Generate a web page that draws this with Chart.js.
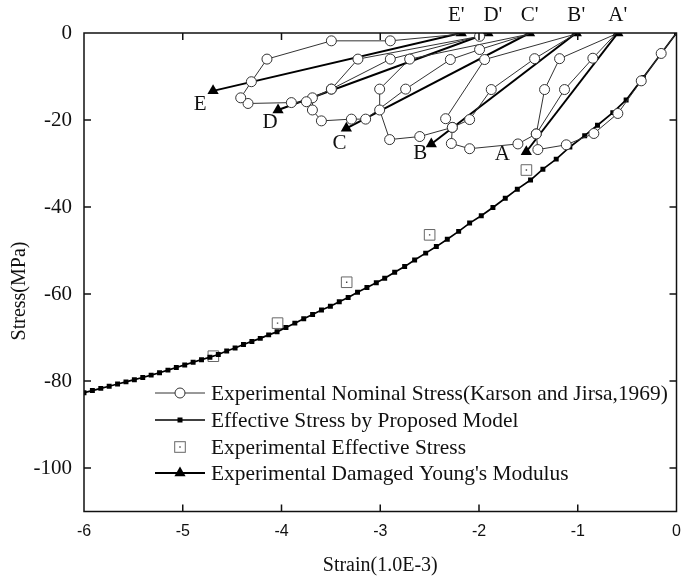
<!DOCTYPE html>
<html>
<head>
<meta charset="utf-8">
<script src="https://cdn.jsdelivr.net/npm/chart.js@4.4.0/dist/chart.umd.min.js"></script>
<style>
  html, body { margin: 0; padding: 0; background: #fff; }
</style>
</head>
<body>
<canvas id="grafico" width="685" height="580"></canvas>
<script>
const xTicks = [-6, -5, -4, -3, -2, -1, 0];
const yTicks = [0, -20, -40, -60, -80, -100];

// Experimental nominal stress, in test order (envelope, unloading, reloading...)
const nominalX = [0, -0.155, -0.357, -0.594, -0.837, -1.116, -1.404, -1.42, -1.336, -1.184, -0.62,
  -0.847, -1.134, -1.42, -1.606, -2.095, -2.28, -2.27, -2.338, -1.943, -1.03,
  -1.437, -1.876, -2.095, -2.27, -2.6, -2.905, -3.006, -3.006, -2.702, -1.5,
  -1.994, -2.29, -2.743, -3.148, -3.292, -3.596, -3.687, -3.687, -3.495, -3.226, -1.994, -1.92,
  -2.898, -3.495, -3.748, -3.9, -4.339, -4.413, -4.305, -4.147, -3.495, -2.898, -2.2];
const nominalY = [0, -4.7, -11.0, -18.5, -23.1, -25.7, -26.8, -23.2, -13.0, -5.9, -0.3,
  -5.8, -13.0, -23.2, -25.5, -26.6, -25.4, -21.7, -19.7, -6.1, -0.3,
  -5.9, -13.0, -19.9, -21.7, -23.8, -24.5, -17.7, -12.9, -6.0, -0.3,
  -3.8, -6.1, -12.9, -19.8, -19.8, -20.2, -17.7, -14.9, -12.9, -6.0, -0.76, -0.3,
  -6.0, -12.9, -15.8, -16.0, -16.2, -14.9, -11.2, -6.0, -1.8, -1.8, -0.3];

// Effective stress by proposed model
const modelX = [-6, -5.915, -5.83, -5.745, -5.66, -5.575, -5.49, -5.405, -5.32, -5.235, -5.15, -5.065,
  -4.98, -4.895, -4.81, -4.725, -4.64, -4.555, -4.47, -4.385, -4.3, -4.215, -4.13, -4.045,
  -3.955, -3.865, -3.775, -3.685, -3.595, -3.505, -3.415, -3.325, -3.23, -3.135, -3.04, -2.955,
  -2.854, -2.753, -2.652, -2.54, -2.432, -2.321, -2.206, -2.095, -1.977, -1.859, -1.734, -1.612,
  -1.478, -1.353, -1.218, -1.08, -0.93, -0.8, -0.645, -0.51, -0.335, -0.155, 0];
const modelY = [-82.7, -82.2, -81.7, -81.2, -80.7, -80.2, -79.7, -79.2, -78.65, -78.1, -77.5, -76.9,
  -76.3, -75.7, -75.1, -74.55, -73.9, -73.1, -72.4, -71.6, -70.9, -70.2, -69.4, -68.7,
  -67.7, -66.7, -65.7, -64.7, -63.7, -62.8, -61.8, -60.8, -59.6, -58.5, -57.4, -56.4,
  -55.0, -53.7, -52.2, -50.6, -49.1, -47.4, -45.6, -43.7, -42.0, -40.1, -38.0, -35.9,
  -33.8, -31.3, -29.0, -26.2, -23.6, -21.2, -18.3, -15.4, -10.2, -4.7, 0];

// Experimental effective stress
const effectiveX = [-1.52, -2.5, -3.34, -4.04, -4.69];
const effectiveY = [-31.5, -46.4, -57.3, -66.7, -74.3];

// Damaged Young's modulus: from residual point (X') to unloading point (X)
const pointNames = ['A', 'B', 'C', 'D', 'E'];
const damagedX = [-1.521, -2.483, -3.343, -4.035, -4.693];
const damagedY = [-27.3, -25.5, -21.9, -17.7, -13.3];
const residualX = [-0.594, -1.015, -1.488, -1.91, -2.18];
const residualY = [0, 0, 0, 0, 0];

const legendNames = [
  'Experimental Nominal Stress(Karson and Jirsa,1969)',
  'Effective Stress by Proposed Model',
  'Experimental Effective Stress',
  "Experimental Damaged Young's Modulus"
];

const serif = "'Liberation Serif', 'Times New Roman', serif";
const sans = "'Liberation Sans', Arial, sans-serif";

const toPoints = (xs, ys) => xs.map((x, i) => ({ x: x, y: ys[i] }));

const datasets = [
  {
    label: legendNames[0],
    data: toPoints(nominalX, nominalY),
    showLine: true,
    borderColor: '#333',
    borderWidth: 1,
    pointStyle: 'circle',
    pointRadius: c => (c.raw && c.raw.y > -0.5 ? 0 : 5),
    pointBackgroundColor: '#fff',
    pointBorderColor: '#333',
    pointBorderWidth: 1
  },
  {
    label: legendNames[1],
    data: toPoints(modelX, modelY),
    showLine: true,
    borderColor: '#000',
    borderWidth: 1.7,
    pointStyle: 'rect',
    pointRadius: 3.5,
    pointBackgroundColor: '#000',
    pointBorderWidth: 0
  },
  {
    label: '',
    data: toPoints(effectiveX, effectiveY),
    showLine: false,
    pointStyle: 'rect',
    pointRadius: 1,
    pointBackgroundColor: '#444',
    pointBorderWidth: 0
  },
  {
    label: legendNames[2],
    data: toPoints(effectiveX, effectiveY),
    showLine: false,
    pointStyle: 'rect',
    pointRadius: 7.5,
    pointBackgroundColor: '#fff',
    pointBorderColor: '#666',
    pointBorderWidth: 1
  }
];

damagedX.forEach((x, i) => {
  datasets.push({
    label: legendNames[3],
    data: [{ x: residualX[i], y: residualY[i] }, { x: x, y: damagedY[i] }],
    showLine: true,
    borderColor: '#000',
    borderWidth: 2,
    pointStyle: 'triangle',
    pointRadius: 6.5,
    pointBackgroundColor: '#000',
    pointBorderColor: '#000',
    pointBorderWidth: 0
  });
});

// keep the plot box fixed: no extra room for end tick labels
const noEdgePadding = s => {
  s.paddingLeft = 0; s.paddingRight = 0; s.paddingTop = 0; s.paddingBottom = 0;
};

// Frame, inward ticks, letters, y title and legend
const decorations = {
  id: 'decorations',
  afterDraw(chart) {
    const ctx = chart.ctx;
    const area = chart.chartArea;
    const xs = chart.scales.x;
    const ys = chart.scales.y;
    const tick = 7;

    ctx.save();
    ctx.strokeStyle = '#111';
    ctx.lineWidth = 1.5;
    ctx.strokeRect(area.left, area.top, area.right - area.left, area.bottom - area.top);
    ctx.beginPath();
    xTicks.forEach(v => {
      if (v === xs.min || v === xs.max) return;
      const px = xs.getPixelForValue(v);
      ctx.moveTo(px, area.bottom); ctx.lineTo(px, area.bottom - tick);
      ctx.moveTo(px, area.top); ctx.lineTo(px, area.top + tick);
    });
    yTicks.forEach(v => {
      if (v === ys.min || v === ys.max) return;
      const py = ys.getPixelForValue(v);
      ctx.moveTo(area.left, py); ctx.lineTo(area.left + tick, py);
      ctx.moveTo(area.right, py); ctx.lineTo(area.right - tick, py);
    });
    ctx.stroke();

    // y axis title
    ctx.fillStyle = '#111';
    ctx.font = '20px ' + serif;
    ctx.textAlign = 'center';
    ctx.textBaseline = 'middle';
    ctx.save();
    ctx.translate(20, 291);
    ctx.rotate(-Math.PI / 2);
    ctx.fillText('Stress(MPa)', 0, 0);
    ctx.restore();

    // point letters
    ctx.font = '21px ' + serif;
    const letterOffsets = [[-24, 3], [-11, 10], [-7, 15], [-8, 12], [-13, 14]];
    const primeOffsets = [0, 0, 0, 5, -5];
    pointNames.forEach((name, i) => {
      const px = xs.getPixelForValue(damagedX[i]);
      const py = ys.getPixelForValue(damagedY[i]);
      ctx.fillText(name, px + letterOffsets[i][0], py + letterOffsets[i][1]);
      const rx = xs.getPixelForValue(residualX[i]);
      const ry = ys.getPixelForValue(residualY[i]);
      ctx.fillText(name + "'", rx + primeOffsets[i], ry - 18);
    });

    // legend
    const lx0 = 155, lx1 = 205, tx = 211;
    const rows = [393, 420, 447, 473];
    ctx.textAlign = 'left';
    ctx.font = '21.4px ' + serif;
    rows.forEach((y, i) => {
      ctx.strokeStyle = i === 0 ? '#333' : '#000';
      ctx.lineWidth = i === 0 ? 1 : (i === 3 ? 2 : 1.7);
      if (i !== 2) {
        ctx.beginPath(); ctx.moveTo(lx0, y); ctx.lineTo(lx1, y); ctx.stroke();
      }
      const cx = (lx0 + lx1) / 2;
      if (i === 0) {
        ctx.beginPath(); ctx.arc(cx, y, 5, 0, Math.PI * 2);
        ctx.fillStyle = '#fff'; ctx.fill();
        ctx.lineWidth = 1; ctx.strokeStyle = '#333'; ctx.stroke();
      } else if (i === 1) {
        ctx.fillStyle = '#000'; ctx.fillRect(cx - 2.5, y - 2.5, 5, 5);
      } else if (i === 2) {
        ctx.fillStyle = '#fff'; ctx.fillRect(cx - 5.3, y - 5.3, 10.6, 10.6);
        ctx.lineWidth = 1; ctx.strokeStyle = '#666'; ctx.strokeRect(cx - 5.3, y - 5.3, 10.6, 10.6);
        ctx.fillStyle = '#444'; ctx.fillRect(cx - 0.7, y - 0.7, 1.4, 1.4);
      } else {
        ctx.fillStyle = '#000';
        ctx.beginPath();
        ctx.moveTo(cx, y - 6.5); ctx.lineTo(cx + 5.6, y + 3.25); ctx.lineTo(cx - 5.6, y + 3.25);
        ctx.closePath(); ctx.fill();
      }
      ctx.fillStyle = '#111';
      ctx.fillText(legendNames[i], tx, y + 1);
    });
    ctx.restore();
  }
};

new Chart(document.getElementById('grafico').getContext('2d'), {
  type: 'scatter',
  data: { datasets: datasets },
  options: {
    responsive: false,
    animation: false,
    devicePixelRatio: 1,
    layout: { padding: { left: 0, right: 8, top: 33, bottom: 0 } },
    plugins: { legend: { display: false }, tooltip: { enabled: false } },
    scales: {
      x: {
        type: 'linear',
        min: -6,
        max: 0,
        afterBuildTicks: s => { s.ticks = xTicks.map(v => ({ value: v })); },
        afterFit: s => { s.height = 68.5; noEdgePadding(s); },
        grid: { display: false, drawTicks: false },
        border: { display: false },
        ticks: { padding: 10, color: '#111', font: { family: sans, size: 16 } },
        title: {
          display: true, text: 'Strain(1.0E-3)', color: '#111',
          font: { family: serif, size: 20 }, padding: { top: 0, bottom: 2 }
        }
      },
      y: {
        type: 'linear',
        min: -110,
        max: 0,
        afterBuildTicks: s => { s.ticks = yTicks.map(v => ({ value: v })); },
        afterFit: s => { s.width = 84; noEdgePadding(s); },
        grid: { display: false, drawTicks: false },
        border: { display: false },
        ticks: { padding: 12, color: '#111', font: { family: serif, size: 21 } }
      }
    }
  },
  plugins: [decorations]
});
</script>
</body>
</html>
